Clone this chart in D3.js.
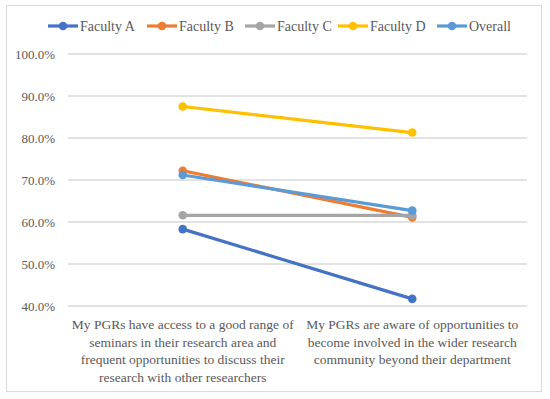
<!DOCTYPE html>
<html>
<head>
<meta charset="utf-8">
<script src="https://cdn.jsdelivr.net/npm/d3@7"></script>
<style>
  body { margin: 0; background: #fff; }
  svg text { font-family: "Liberation Serif", "Times New Roman", serif; fill: #595959; }
</style>
</head>
<body>
<svg width="550" height="399"></svg>
<script>
// categories (x axis) - already split into the lines shown under the axis
const categories = ["q1", "q2"];
const categoryLines = [
  ["My PGRs have access to a good range of", "seminars in their research area and", "frequent opportunities to discuss their", "research with other researchers"],
  ["My PGRs are aware of opportunities to", "become involved in the wider research", "community beyond their department"]
];

// series names + colours
const seriesNames = ["Faculty A", "Faculty B", "Faculty C", "Faculty D", "Overall"];
const seriesColors = ["#4472C4", "#ED7D31", "#A5A5A5", "#FFC000", "#5B9BD5"];

// values (fractions)
const facultyA = [0.583, 0.417];
const facultyB = [0.722, 0.611];
const facultyC = [0.616, 0.616];
const facultyD = [0.875, 0.813];
const overall = [0.712, 0.627];

const yTicks = [0.4, 0.5, 0.6, 0.7, 0.8, 0.9, 1.0];

const allSeries = [facultyA, facultyB, facultyC, facultyD, overall];

const svg = d3.select("svg");

// outer chart border
svg.append("rect")
  .attr("x", 6.5).attr("y", 5.5)
  .attr("width", 535).attr("height", 386)
  .attr("fill", "#fff")
  .attr("stroke", "#D9D9D9");

const margin = { left: 68, right: 527, top: 54, bottom: 306 };

const x = d3.scaleBand()
  .domain(categories)
  .range([margin.left, margin.right]);

const y = d3.scaleLinear()
  .domain([0.4, 1.0])
  .range([margin.bottom, margin.top]);

// gridlines
svg.append("g").selectAll("line")
  .data(yTicks)
  .enter().append("line")
  .attr("x1", margin.left).attr("x2", margin.right)
  .attr("y1", d => y(d)).attr("y2", d => y(d))
  .attr("stroke", "#D9D9D9")
  .attr("stroke-width", 1.3);

// y tick labels
svg.append("g").selectAll("text")
  .data(yTicks)
  .enter().append("text")
  .attr("x", 55)
  .attr("y", d => y(d))
  .attr("dy", "0.35em")
  .attr("text-anchor", "end")
  .style("font-size", "13px")
  .text(d => d3.format(".1%")(d));

// category labels (wrapped)
const cat = svg.append("g").selectAll("text")
  .data(categories)
  .enter().append("text")
  .attr("text-anchor", "middle")
  .style("font-size", "13.5px");

cat.selectAll("tspan")
  .data((d, i) => categoryLines[i].map(t => ({ t, c: d })))
  .enter().append("tspan")
  .attr("x", d => x(d.c) + x.bandwidth() / 2)
  .attr("y", (d, i) => 329 + i * 17.7)
  .text(d => d.t);

// lines + markers
const line = d3.line()
  .x((d, i) => x(categories[i]) + x.bandwidth() / 2)
  .y(d => y(d));

allSeries.forEach((vals, s) => {
  svg.append("path")
    .datum(vals)
    .attr("d", line)
    .attr("fill", "none")
    .attr("stroke", seriesColors[s])
    .attr("stroke-width", 3.2)
    .attr("stroke-linecap", "round");

  svg.append("g").selectAll("circle")
    .data(vals)
    .enter().append("circle")
    .attr("cx", (d, i) => x(categories[i]) + x.bandwidth() / 2)
    .attr("cy", d => y(d))
    .attr("r", 4.3)
    .attr("fill", seriesColors[s]);
});

// legend
const legendX = [48, 147, 245, 338, 437];
const legend = svg.append("g").selectAll("g")
  .data(seriesNames)
  .enter().append("g")
  .attr("transform", (d, i) => `translate(${legendX[i]},26)`);

legend.append("line")
  .attr("x1", 0).attr("x2", 30)
  .attr("stroke", (d, i) => seriesColors[i])
  .attr("stroke-width", 3.2);

legend.append("circle")
  .attr("cx", 15).attr("r", 4.3)
  .attr("fill", (d, i) => seriesColors[i]);

legend.append("text")
  .attr("x", 32)
  .attr("dy", "0.35em")
  .style("font-size", "14px")
  .text(d => d);
</script>
</body>
</html>
